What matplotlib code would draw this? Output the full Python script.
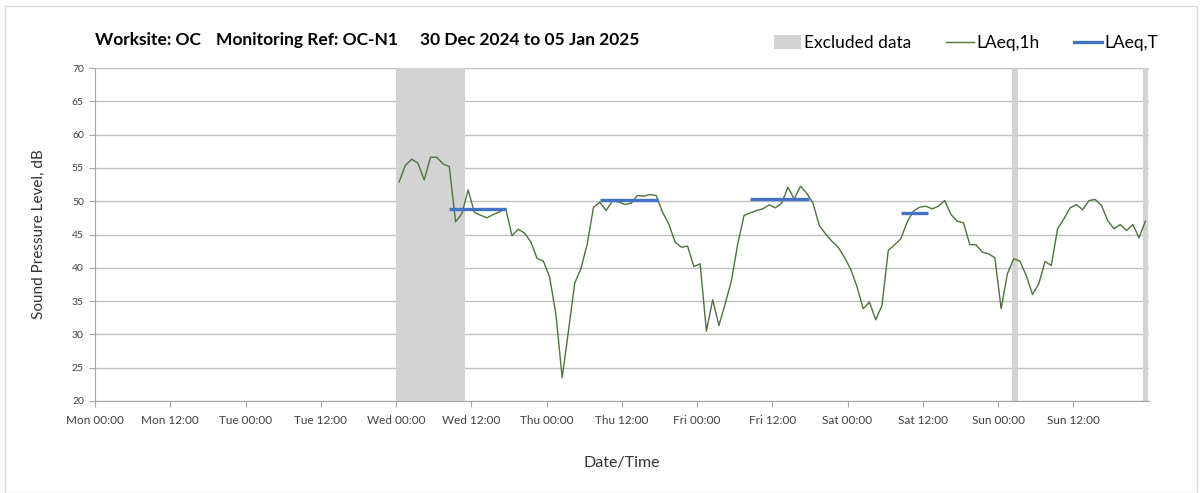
import matplotlib.pyplot as plt
from matplotlib.ticker import MultipleLocator
from matplotlib.patches import Patch, Rectangle
from matplotlib.lines import Line2D

# hours since Mon 00:00 (hourly values plotted at the middle of each hour)
hours = [48.5 + i for i in range(120)]

# LAeq,1h values, dB
laeq_1h = [
    52.9, 55.4, 56.3, 55.7, 53.2, 56.6, 56.6, 55.6, 55.2, 46.9,
    48.1, 51.7, 48.3, 47.9, 47.5, 48.0, 48.4, 48.9, 44.8, 45.8,
    45.2, 43.9, 41.4, 41.0, 38.6, 33.0, 23.5, 30.5, 37.7, 39.9,
    43.6, 49.1, 49.85, 48.6, 50.0, 49.9, 49.5, 49.7, 50.85, 50.75,
    51.0, 50.85, 48.35, 46.6, 43.85, 43.1, 43.25, 40.2, 40.6, 30.5,
    35.2, 31.35, 34.6, 38.1, 43.6, 47.85, 48.25, 48.6, 48.85, 49.45,
    49.0, 49.7, 52.1, 50.35, 52.25, 51.2, 49.7, 46.35, 45.1, 44.0,
    43.1, 41.6, 39.8, 37.2, 33.85, 34.85, 32.2, 34.35, 42.6, 43.45,
    44.35, 46.85, 48.5, 49.1, 49.25, 48.85, 49.25, 50.1, 48.0, 47.0,
    46.75, 43.5, 43.45, 42.35, 42.1, 41.5, 33.85, 39.1, 41.35, 41.0,
    38.85, 36.0, 37.6, 40.95, 40.35, 45.85, 47.35, 49.0, 49.5, 48.7,
    50.1, 50.25, 49.35, 47.1, 45.85, 46.5, 45.6, 46.5, 44.5, 47.0,
]

# LAeq,T periods (start hour, end hour, level)
period_start = [56.4, 80.5, 104.5, 128.6]
period_end = [65.6, 89.8, 113.9, 132.8]
laeq_t = [48.9, 50.2, 50.3, 48.2]

# excluded data periods
excluded_start = [48.0, 146.3, 167.2]
excluded_end = [59.0, 147.2, 168.0]

# tick labels every 12 hours
days = ["Mon", "Tue", "Wed", "Thu", "Fri", "Sat", "Sun"]
tick_labels = [d + t for d in days for t in [" 00:00", " 12:00"]]

plt.rcParams['font.family'] = ['Lato', 'DejaVu Sans']

fig = plt.figure(figsize=(12.03, 4.93), dpi=100)
ax = fig.add_axes([95 / 1203, 92 / 493, 1053.5 / 1203, 333 / 493])

# outer border
fig.patches.append(Rectangle((5 / 1203, 0.0), 1192 / 1203, 487 / 493, transform=fig.transFigure,
                             fill=False, edgecolor="#d9d9d9", linewidth=1))

# excluded data shading
for s, e in zip(excluded_start, excluded_end):
    ax.axvspan(s, e, color="#d3d3d3", linewidth=0, zorder=1)

# hourly line
ax.plot(hours, laeq_1h, color="#4f7240", linewidth=1.0, zorder=3)

# period lines
for s, e, v in zip(period_start, period_end, laeq_t):
    ax.plot([s, e], [v, v], color="#4472c4", linewidth=2.4, solid_capstyle="butt", zorder=4)

# axes limits and ticks
ax.set_xlim(0, 168)
ax.set_ylim(20, 70)
ax.set_xticks(range(0, 168, 12))
ax.set_xticklabels(tick_labels, fontsize=8.5, color="#404040")
ax.xaxis.set_minor_locator(MultipleLocator(24))
ax.set_yticks(range(20, 71, 5))
ax.set_yticklabels([str(v) for v in range(20, 71, 5)], fontsize=7.5, color="#404040")
ax.tick_params(axis="x", which="major", length=4, color="#a6a6a6", pad=6)
ax.tick_params(axis="x", which="minor", length=0)
ax.tick_params(axis="y", length=4, color="#a6a6a6", pad=4)

# grid
ax.grid(axis="y", color="#c0c0c0", linewidth=1.0, zorder=0)
ax.grid(axis="x", which="minor", color="#dcdcdc", linewidth=1.0, zorder=0)
ax.set_axisbelow(True)

for side in ["top", "right"]:
    ax.spines[side].set_visible(False)
for side in ["left", "bottom"]:
    ax.spines[side].set_color("#a6a6a6")

# axis labels
ax.set_ylabel("Sound Pressure Level, dB", fontsize=11, color="#333333", labelpad=19)
ax.set_xlabel("Date/Time", fontsize=11.5, color="#333333", labelpad=22)

# title in three pieces
fig.text(95 / 1203, 1 - 40 / 493, "Worksite: OC", fontsize=12.5, fontweight="bold", va="center")
fig.text(216 / 1203, 1 - 40 / 493, "Monitoring Ref: OC-N1", fontsize=12.5, fontweight="bold", va="center")
fig.text(420 / 1203, 1 - 40 / 493, "30 Dec 2024 to 05 Jan 2025", fontsize=12.5, fontweight="bold", va="center")

# legend
handles = [
    Patch(facecolor="#d3d3d3", edgecolor="none"),
    Line2D([0], [0], color="#4f7240", linewidth=1.0),
    Line2D([0], [0], color="#4472c4", linewidth=2.4),
]
fig.legend(handles, ["Excluded data", "LAeq,1h", "LAeq,T"], ncol=3, frameon=False,
           loc="center right", bbox_to_anchor=(1174 / 1203, 1 - 43 / 493),
           fontsize=12.5, handlelength=1.6, handletextpad=0.15, columnspacing=2.0,
           handleheight=0.8)

fig.savefig("out.png", dpi=100)
